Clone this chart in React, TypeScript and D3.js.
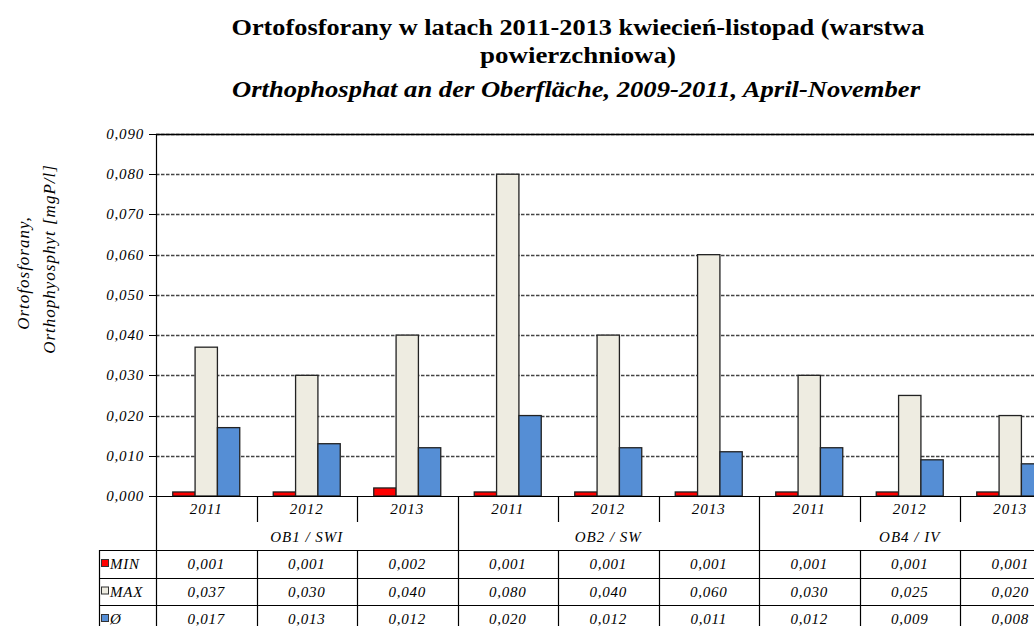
import React from "react";
import * as d3 from "d3";

const groups = ["OB1 / SWI", "OB2 / SW", "OB4 / IV"];
const years = ["2011", "2012", "2013"];
const categories = groups.flatMap((g) => years.map((y) => ({ group: g, year: y })));
const seriesNames = ["MIN", "MAX", "Ø"];
const minValues = [0.001, 0.001, 0.002, 0.001, 0.001, 0.001, 0.001, 0.001, 0.001];
const maxValues = [0.037, 0.03, 0.04, 0.08, 0.04, 0.06, 0.03, 0.025, 0.02];
const avgValues = [0.017, 0.013, 0.012, 0.02, 0.012, 0.011, 0.012, 0.009, 0.008];
const yTicks = [0, 0.01, 0.02, 0.03, 0.04, 0.05, 0.06, 0.07, 0.08, 0.09];
const colors = ["#FF0000", "#EEECE1", "#558ED5"];
const series = [minValues, maxValues, avgValues];

const W = 1034;
const H = 626;
const plotLeft = 156;
const colW = 100.5;
const plotTop = 134;
const plotBottom = 496;
const tableLeft = 99;

const fmt = (v: number) => v.toFixed(3).replace(".", ",");

export default function App() {
  const x = d3
    .scaleBand<number>()
    .domain(d3.range(categories.length))
    .range([plotLeft, plotLeft + colW * categories.length]);
  const inner = d3
    .scaleBand<number>()
    .domain(d3.range(seriesNames.length))
    .range([0, x.bandwidth()])
    .paddingInner(0)
    .paddingOuter(0.75);
  const y = d3.scaleLinear().domain([0, 0.09]).range([plotBottom, plotTop]);
  const right = plotLeft + colW * categories.length;

  const font = "Liberation Serif";
  const rowY = [550, 577.5, 605, 632.5];

  return (
    <svg
      width={W}
      height={H}
      style={{ position: "absolute", left: 0, top: 0, background: "#fff" }}
      fontFamily={font}
    >
      {/* Title */}
      <g fontFamily={font} fontWeight="bold" fill="#000" textAnchor="middle">
        <text x={578} y={35} fontSize={23} textLength={693} lengthAdjust="spacingAndGlyphs">
          Ortofosforany w latach 2011-2013  kwiecień-listopad (warstwa
        </text>
        <text x={578} y={63} fontSize={23} textLength={196} lengthAdjust="spacingAndGlyphs">
          powierzchniowa)
        </text>
        <text x={576} y={97} fontSize={23} fontStyle="italic" textLength={688} lengthAdjust="spacingAndGlyphs">
          Orthophosphat an der Oberfläche, 2009-2011, April-November
        </text>
      </g>

      {/* Y axis title */}
      <g fontFamily={font} fontStyle="italic" fontSize={17} fill="#000" textAnchor="middle" letterSpacing={1}>
        <text transform="translate(29,273) rotate(-90)">Ortofosforany,</text>
        <text transform="translate(55,259) rotate(-90)">Orthophyosphyt [mgP/l]</text>
      </g>

      {/* Gridlines */}
      <g>
        {yTicks.map((t) => (
          <line
            key={t}
            x1={plotLeft}
            x2={right}
            y1={Math.round(y(t)) + 0.5}
            y2={Math.round(y(t)) + 0.5}
            stroke={t === 0 ? "none" : "#444"}
            strokeWidth={1.3}
            strokeDasharray="3.5,1.5"
          />
        ))}
        <line x1={plotLeft} x2={right} y1={plotTop + 0.5} y2={plotTop + 0.5} stroke="#000" strokeWidth={1.5} />
      </g>

      {/* Y ticks and labels */}
      <g fontFamily={font} fontStyle="italic" fontSize={15} fill="#000" textAnchor="end" letterSpacing={0.8}>
        {yTicks.map((t) => (
          <g key={t}>
            <line x1={plotLeft - 7} x2={plotLeft} y1={Math.round(y(t)) + 0.5} y2={Math.round(y(t)) + 0.5} stroke="#000" />
            <text x={144} y={y(t) + 5}>
              {fmt(t)}
            </text>
          </g>
        ))}
      </g>

      {/* Bars */}
      <g>
        {categories.map((c, i) =>
          series.map((vals, s) => (
            <rect
              key={`${i}-${s}`}
              x={(x(i) as number) + (inner(s) as number)}
              y={y(vals[i])}
              width={inner.bandwidth()}
              height={plotBottom - y(vals[i])}
              fill={colors[s]}
              stroke="#222"
              strokeWidth={1.3}
            />
          ))
        )}
      </g>

      {/* Axes lines */}
      <line x1={plotLeft + 0.5} x2={plotLeft + 0.5} y1={plotTop} y2={H} stroke="#000" strokeWidth={1.2} />
      <line x1={plotLeft} x2={right} y1={plotBottom + 0.5} y2={plotBottom + 0.5} stroke="#000" strokeWidth={1.2} />

      {/* Category separators */}
      <g stroke="#000" strokeWidth={1.2}>
        {categories.map((c, i) => {
          if (i === 0) return null;
          const xx = Math.round(x(i) as number) + 0.5;
          const isGroup = i % years.length === 0;
          return (
            <g key={i}>
              {isGroup ? (
                <line x1={xx} x2={xx} y1={plotBottom} y2={H} />
              ) : (
                <>
                  <line x1={xx} x2={xx} y1={plotBottom} y2={522} />
                  <line x1={xx} x2={xx} y1={rowY[0]} y2={H} />
                </>
              )}
            </g>
          );
        })}
        <line x1={tableLeft + 0.5} x2={tableLeft + 0.5} y1={rowY[0]} y2={H} />
        {rowY.slice(0, 3).map((ry) => (
          <line key={ry} x1={tableLeft} x2={right} y1={Math.round(ry) + 0.5} y2={Math.round(ry) + 0.5} />
        ))}
      </g>

      {/* Year labels */}
      <g fontFamily={font} fontStyle="italic" fontSize={15} fill="#000" textAnchor="middle" letterSpacing={1}>
        {categories.map((c, i) => (
          <text key={i} x={(x(i) as number) + x.bandwidth() / 2} y={514}>
            {c.year}
          </text>
        ))}
        {groups.map((g, gi) => (
          <text key={g} x={(x(gi * 3) as number) + (x.bandwidth() * 3) / 2} y={542}>
            {g}
          </text>
        ))}
      </g>

      {/* Table */}
      <g fontFamily={font} fontStyle="italic" fontSize={15} fill="#000" letterSpacing={0.8}>
        {seriesNames.map((name, s) => (
          <g key={name}>
            <rect x={101.5} y={rowY[s] + 9.5} width={7} height={7} fill={colors[s]} stroke="#333" strokeWidth={1} />
            <text x={110} y={rowY[s] + 19}>
              {name}
            </text>
            {series[s].map((v, i) => (
              <text key={i} x={(x(i) as number) + x.bandwidth() / 2} y={rowY[s] + 19} textAnchor="middle">
                {fmt(v)}
              </text>
            ))}
          </g>
        ))}
      </g>
    </svg>
  );
}
